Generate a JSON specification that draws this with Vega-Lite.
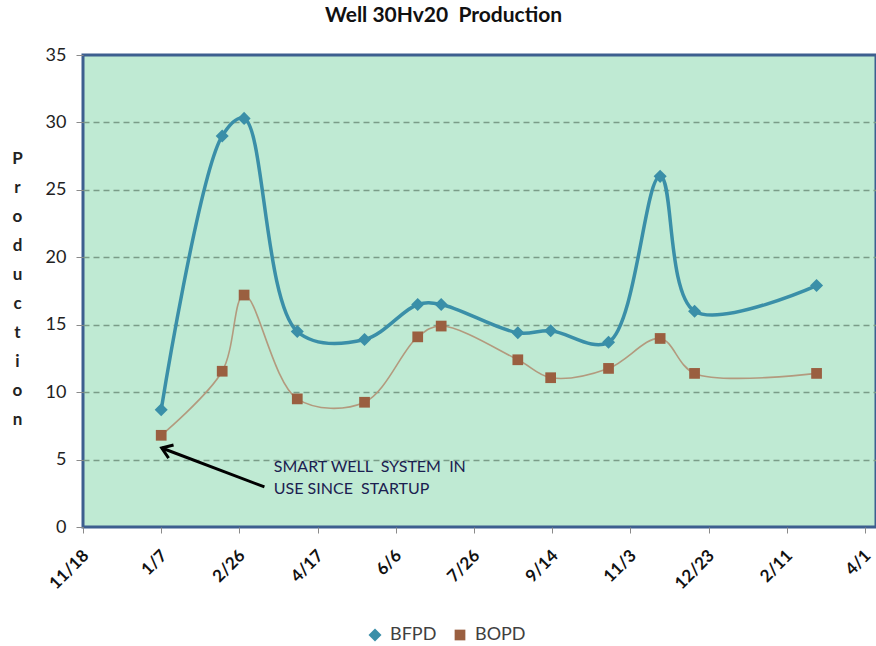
{
  "$schema": "https://vega.github.io/schema/vega-lite/v6.json",
  "width": 793,
  "height": 472,
  "autosize": {"type": "none"},
  "padding": {"left": 83, "top": 55, "right": 0, "bottom": 119},
  "background": "white",
  "config": {
    "view": {"fill": "#BFEAD3", "stroke": "#3D5F8F", "strokeWidth": 3},
    "font": "Lato"
  },
  "title": {
    "text": "Well 30Hv20\u00a0 Production",
    "fontSize": 21,
    "fontWeight": "bold",
    "color": "#111111",
    "anchor": "middle",
    "dx": -36,
    "offset": 3,
    "baseline": "alphabetic",
    "font": "Lato"
  },
  "datasets": {
    "prod": [
      {"date": "2011-01-07", "series": "BFPD", "value": 8.7},
      {"date": "2011-02-15", "series": "BFPD", "value": 29.0},
      {"date": "2011-03-01", "series": "BFPD", "value": 30.3},
      {"date": "2011-04-04", "series": "BFPD", "value": 14.5},
      {"date": "2011-05-17", "series": "BFPD", "value": 13.9},
      {"date": "2011-06-20", "series": "BFPD", "value": 16.5},
      {"date": "2011-07-05", "series": "BFPD", "value": 16.5},
      {"date": "2011-08-23", "series": "BFPD", "value": 14.4},
      {"date": "2011-09-13", "series": "BFPD", "value": 14.55},
      {"date": "2011-10-20", "series": "BFPD", "value": 13.7},
      {"date": "2011-11-22", "series": "BFPD", "value": 26.0},
      {"date": "2011-12-14", "series": "BFPD", "value": 16.0},
      {"date": "2012-03-01", "series": "BFPD", "value": 17.9},
      {"date": "2011-01-07", "series": "BOPD", "value": 6.8},
      {"date": "2011-02-15", "series": "BOPD", "value": 11.55},
      {"date": "2011-03-01", "series": "BOPD", "value": 17.2},
      {"date": "2011-04-04", "series": "BOPD", "value": 9.5},
      {"date": "2011-05-17", "series": "BOPD", "value": 9.25},
      {"date": "2011-06-20", "series": "BOPD", "value": 14.1},
      {"date": "2011-07-05", "series": "BOPD", "value": 14.9},
      {"date": "2011-08-23", "series": "BOPD", "value": 12.4},
      {"date": "2011-09-13", "series": "BOPD", "value": 11.07},
      {"date": "2011-10-20", "series": "BOPD", "value": 11.76},
      {"date": "2011-11-22", "series": "BOPD", "value": 13.98},
      {"date": "2011-12-14", "series": "BOPD", "value": 11.39},
      {"date": "2012-03-01", "series": "BOPD", "value": 11.39}
    ],
    "arrow": [
      {"date": "2011-03-14", "value": 2.97, "date2": "2011-01-07T08:00:00Z", "value2": 5.86}
    ],
    "head": [
      {"date": "2011-01-07T08:00:00Z", "value": 5.86}
    ],
    "note": [
      {"date": "2011-03-20", "value": 4.47, "label": "SMART WELL\u00a0 SYSTEM\u00a0 IN\nUSE SINCE\u00a0 STARTUP"}
    ]
  },
  "encoding": {
    "x": {
      "field": "date",
      "type": "temporal",
      "scale": {
        "type": "utc",
        "domain": [
          {"year": 2010, "month": 11, "date": 18, "utc": true},
          {"year": 2012, "month": 4, "date": 8, "utc": true}
        ]
      },
      "axis": {
        "values": [
          {"year": 2010, "month": 11, "date": 18, "utc": true},
          {"year": 2011, "month": 1, "date": 7, "utc": true},
          {"year": 2011, "month": 2, "date": 26, "utc": true},
          {"year": 2011, "month": 4, "date": 17, "utc": true},
          {"year": 2011, "month": 6, "date": 6, "utc": true},
          {"year": 2011, "month": 7, "date": 26, "utc": true},
          {"year": 2011, "month": 9, "date": 14, "utc": true},
          {"year": 2011, "month": 11, "date": 3, "utc": true},
          {"year": 2011, "month": 12, "date": 23, "utc": true},
          {"year": 2012, "month": 2, "date": 11, "utc": true},
          {"year": 2012, "month": 4, "date": 1, "utc": true}
        ],
        "format": "%-m/%-d",
        "labelAngle": -45,
        "labelAlign": "right",
        "labelBaseline": "top",
        "labelFontSize": 17,
        "labelFontWeight": "bold",
        "labelColor": "#111111",
        "labelPadding": 14,
        "labelOffset": -3,
        "labelFlush": false,
        "labelOverlap": false,
        "tickColor": "#8A8A8A",
        "tickSize": 6,
        "domain": false,
        "grid": false,
        "title": null
      }
    },
    "y": {
      "field": "value",
      "type": "quantitative",
      "scale": {"domain": [0, 35], "nice": false, "zero": true},
      "axis": {
        "values": [0, 5, 10, 15, 20, 25, 30, 35],
        "grid": true,
        "gridDash": [6, 4],
        "gridColor": "#7A9C88",
        "gridWidth": 1.5,
        "gridOpacity": {"condition": {"test": "datum.value === 0 || datum.value === 35", "value": 0}, "value": 1},
        "domain": false,
        "tickSize": 7,
        "tickColor": "#8A8A8A",
        "labelFontSize": 18,
        "labelColor": "#222222",
        "labelPadding": 10,
        "title": ["P", "r", "o", "d", "u", "c", "t", "i", "o", "n"],
        "titleAngle": 0,
        "titleX": -66,
        "titleY": 103,
        "titleAlign": "center",
        "titleBaseline": "middle",
        "titleLineHeight": 29,
        "titleFontSize": 17,
        "titleFontWeight": "bold",
        "titleColor": "#222222"
      }
    }
  },
  "layer": [
    {
      "data": {"name": "prod"},
      "transform": [{"filter": "datum.series === 'BOPD'"}],
      "mark": {"type": "line", "interpolate": "catmull-rom", "color": "#B39A7E", "strokeWidth": 1.6},
      "encoding": {}
    },
    {
      "data": {"name": "prod"},
      "transform": [{"filter": "datum.series === 'BFPD'"}],
      "mark": {"type": "line", "interpolate": "catmull-rom", "color": "#3A8FA8", "strokeWidth": 3.5},
      "encoding": {}
    },
    {
      "data": {"name": "prod"},
      "mark": {"type": "point", "filled": true, "opacity": 1},
      "encoding": {
        "color": {
          "field": "series",
          "type": "nominal",
          "scale": {"domain": ["BFPD", "BOPD"], "range": ["#3A8FA8", "#9A5F40"]},
          "legend": {"orient": "none", "legendX": 283, "legendY": 571, "direction": "horizontal", "title": null, "labelFontSize": 18, "labelColor": "#404040", "labelFont": "Lato", "labelOffset": 6, "symbolSize": 130, "columnPadding": 14}
        },
        "shape": {
          "field": "series",
          "type": "nominal",
          "scale": {"domain": ["BFPD", "BOPD"], "range": ["diamond", "square"]},
          "legend": {"orient": "none", "legendX": 283, "legendY": 571, "direction": "horizontal", "title": null, "labelFontSize": 18, "labelColor": "#404040", "labelFont": "Lato", "labelOffset": 6, "symbolSize": 130, "columnPadding": 14}
        },
        "size": {
          "field": "series",
          "type": "nominal",
          "scale": {"domain": ["BFPD", "BOPD"], "range": [170, 115]},
          "legend": null
        }
      }
    },
    {
      "data": {"name": "arrow"},
      "mark": {"type": "rule", "color": "#000000", "strokeWidth": 3},
      "encoding": {
        "x2": {"field": "date2", "type": "temporal"},
        "y2": {"field": "value2"}
      }
    },
    {
      "data": {"name": "head"},
      "mark": {"type": "point", "shape": "M-0.7,1L0,0L0.7,1", "filled": false, "stroke": "#000000", "strokeWidth": 3, "opacity": 1, "angle": 290.6, "size": 400},
      "encoding": {}
    },
    {
      "data": {"name": "note"},
      "mark": {"type": "text", "align": "left", "baseline": "middle", "lineBreak": "\n", "lineHeight": 22.5, "fontSize": 16, "color": "#1B2050", "font": "Lato"},
      "encoding": {
        "text": {"field": "label"}
      }
    }
  ]
}
